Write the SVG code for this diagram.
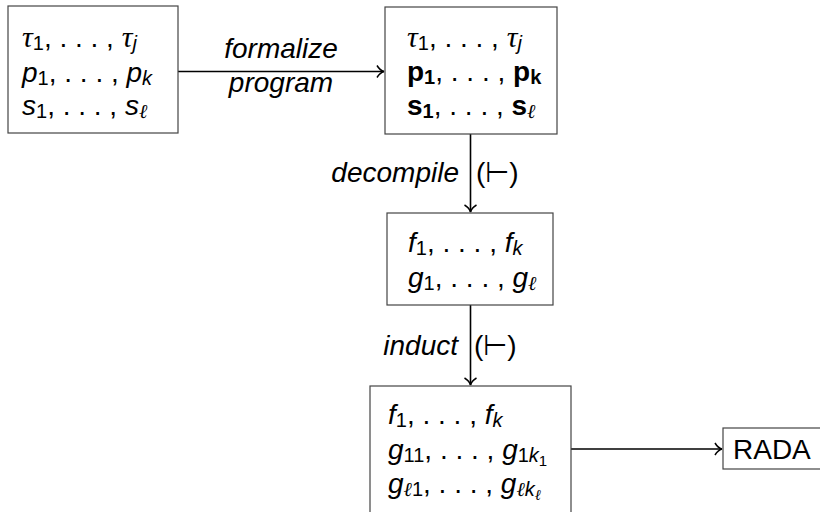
<svg xmlns="http://www.w3.org/2000/svg" width="820" height="512" viewBox="0 0 820 512">
<style>
.box{fill:#fff;stroke:#444;stroke-width:1.2}
.edge{fill:none;stroke:#000;stroke-width:1.6}
text{font-family:"Liberation Sans",Arial,sans-serif;font-size:28px;fill:#000}
.it{font-style:italic}
.b{font-weight:bold}
.sub{font-size:20px}
.ssub{font-size:15px}
.tau{font-family:"Liberation Serif","Times New Roman",serif;font-style:italic;font-size:30px}
.serif{font-family:"DejaVu Serif","Liberation Serif",serif;font-style:italic}
</style>
<defs>
<marker id="arr" markerWidth="12" markerHeight="14" refX="10" refY="7" orient="auto" markerUnits="userSpaceOnUse">
<path d="M3,1 Q6,6 10,7 Q6,8 3,13" fill="none" stroke="#000" stroke-width="1.5"/>
</marker>
</defs>
<g id="connectors">
<line class="edge" x1="178" y1="71.5" x2="384" y2="71.5" marker-end="url(#arr)"/>
<line class="edge" x1="470.5" y1="134" x2="470.5" y2="212" marker-end="url(#arr)"/>
<line class="edge" x1="470.5" y1="305" x2="470.5" y2="385" marker-end="url(#arr)"/>
<line class="edge" x1="571" y1="449" x2="722" y2="449" marker-end="url(#arr)"/>
<text class="it" x="281" y="58" text-anchor="middle">formalize</text>
<text class="it" x="281" y="92" text-anchor="middle">program</text>
<text class="it" x="459" y="182" text-anchor="end">decompile</text>
<text x="476" y="182">(⊢)</text>
<text class="it" x="458" y="355" text-anchor="end">induct</text>
<text x="474" y="355">(⊢)</text>
</g>
<g id="node1">
<rect class="box" x="8" y="6" width="170" height="127"/>
<text x="22" y="47"><tspan class="tau">τ</tspan><tspan class="sub" dy="3">1</tspan><tspan dy="-3">, . . . , </tspan><tspan class="tau">τ</tspan><tspan class="sub it" dy="3">j</tspan></text>
<text x="22" y="82"><tspan class="it">p</tspan><tspan class="sub" dy="3">1</tspan><tspan dy="-3">, . . . , </tspan><tspan class="it">p</tspan><tspan class="sub it" dy="3">k</tspan></text>
<text x="22" y="115"><tspan class="it">s</tspan><tspan class="sub" dy="3">1</tspan><tspan dy="-3">, . . . , </tspan><tspan class="it">s</tspan><tspan class="sub serif" dy="3">ℓ</tspan></text>
</g>
<g id="node2">
<rect class="box" x="385" y="7" width="172" height="127"/>
<text x="407" y="47"><tspan class="tau">τ</tspan><tspan class="sub" dy="3">1</tspan><tspan dy="-3">, . . . , </tspan><tspan class="tau">τ</tspan><tspan class="sub it" dy="3">j</tspan></text>
<text x="407" y="81"><tspan class="b">p</tspan><tspan class="sub b" dy="3">1</tspan><tspan dy="-3">, . . . , </tspan><tspan class="b">p</tspan><tspan class="sub b" dy="3">k</tspan></text>
<text x="407" y="115"><tspan class="b">s</tspan><tspan class="sub b" dy="3">1</tspan><tspan dy="-3">, . . . , </tspan><tspan class="b">s</tspan><tspan class="sub serif" dy="3">ℓ</tspan></text>
</g>
<g id="node3">
<rect class="box" x="387" y="213" width="166" height="92"/>
<text x="408" y="252"><tspan class="it">f</tspan><tspan class="sub" dy="3">1</tspan><tspan dy="-3">, . . . , </tspan><tspan class="it">f</tspan><tspan class="sub it" dy="3">k</tspan></text>
<text x="408" y="287"><tspan class="it">g</tspan><tspan class="sub" dy="3">1</tspan><tspan dy="-3">, . . . , </tspan><tspan class="it">g</tspan><tspan class="sub serif" dy="3">ℓ</tspan></text>
</g>
<g id="node4">
<rect class="box" x="370" y="386" width="201" height="140"/>
<text x="388" y="424"><tspan class="it">f</tspan><tspan class="sub" dy="3">1</tspan><tspan dy="-3">, . . . , </tspan><tspan class="it">f</tspan><tspan class="sub it" dy="3">k</tspan></text>
<text x="388" y="459"><tspan class="it">g</tspan><tspan class="sub" dy="3">11</tspan><tspan dy="-3">, . . . , </tspan><tspan class="it">g</tspan><tspan class="sub" dy="3">1</tspan><tspan class="sub it">k</tspan><tspan class="ssub" dy="4">1</tspan></text>
<text x="388" y="493"><tspan class="it">g</tspan><tspan class="sub serif" dy="3">ℓ</tspan><tspan class="sub">1</tspan><tspan dy="-3">, . . . , </tspan><tspan class="it">g</tspan><tspan class="sub serif" dy="3">ℓ</tspan><tspan class="sub it">k</tspan><tspan class="ssub serif" dy="4">ℓ</tspan></text>
</g>
<g id="node5">
<rect class="box" x="723" y="428" width="110" height="41"/>
<text x="733" y="459">RADA</text>
</g>
</svg>
